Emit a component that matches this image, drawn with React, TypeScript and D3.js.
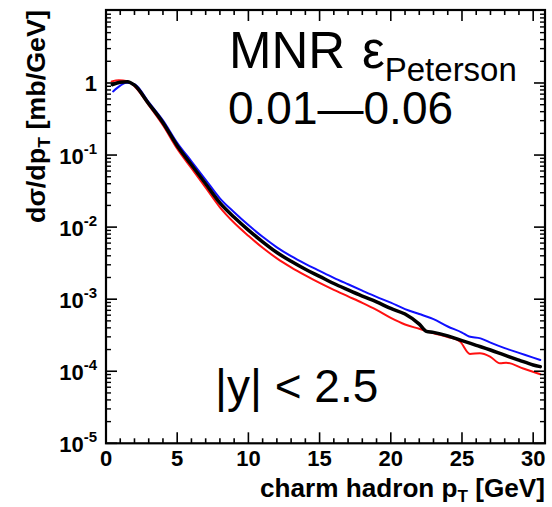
import React from "react";
import * as d3 from "d3";

const W = 552;
const H = 507;

// Black curve (central)
const pTBlack = [0.45, 1, 1.5, 2, 3, 4, 5, 6, 7, 8, 9, 10, 11, 12, 13, 14, 15, 16, 17, 18, 19, 20, 21, 22, 22.5, 23, 24, 25, 26, 27, 28, 29, 30, 30.5];
const valBlack = [0.947, 1.026, 1.042, 0.932, 0.516, 0.281, 0.1346, 0.0733, 0.0399, 0.0217, 0.01368, 0.00908, 0.00625, 0.00444, 0.00335, 0.0026, 0.002075, 0.001652, 0.001346, 0.001104, 0.000917, 0.000743, 0.000621, 0.00045, 0.000358, 0.000346, 0.00031, 0.000266, 0.000229, 0.000197, 0.000167, 0.0001426, 0.0001222, 0.0001159];

// Blue curve
const pTBlue = [0.5, 1, 1.4, 2, 3, 4, 5, 6, 7, 8, 9, 10, 11, 12, 13, 14, 15, 16, 17, 18, 19, 20, 21, 22, 23, 24, 25, 25.5, 26.3, 27, 28, 29, 30, 30.5];
const valBlue = [0.764, 0.917, 1.01, 0.962, 0.541, 0.304, 0.148, 0.082, 0.0454, 0.0251, 0.01606, 0.01066, 0.00733, 0.00524, 0.00395, 0.00309, 0.00247, 0.00198, 0.00161, 0.001313, 0.001076, 0.000894, 0.000729, 0.000623, 0.000529, 0.000418, 0.000344, 0.000303, 0.000286, 0.000249, 0.000209, 0.00018, 0.0001545, 0.0001435];

// Red curve
const pTRed = [0.4, 0.9, 1.5, 2, 3, 4, 5, 6, 7, 8, 9, 10, 11, 12, 13, 14, 15, 16, 17, 18, 19, 20, 21, 22, 23, 24, 24.86, 25.56, 26.26, 26.97, 27.67, 28.1, 29.3, 30.5];
const valRed = [1.052, 1.094, 1.059, 0.903, 0.492, 0.259, 0.1222, 0.0656, 0.0352, 0.01884, 0.01148, 0.00757, 0.00516, 0.00369, 0.00277, 0.00214, 0.00168, 0.001346, 0.001094, 0.000889, 0.00071, 0.00055, 0.000446, 0.000388, 0.000336, 0.000299, 0.000258, 0.000174, 0.000178, 0.00016, 0.000129, 0.0001316, 0.000109, 0.000091];

const xTickLabels = ["0", "5", "10", "15", "20", "25", "30"];
const yTickExponents = [0, -1, -2, -3, -4, -5];

const X0 = 106, X1 = 545, Y0 = 443.3, Y1 = 10;

export default function App() {
  const x = d3.scaleLinear().domain([0, 30.83]).range([X0, X1]);
  const y = d3.scaleLog().domain([1e-5, 10.3]).range([Y0, Y1]);

  const line = d3
    .line<[number, number]>()
    .x((d) => x(d[0]))
    .y((d) => y(d[1]))
    .curve(d3.curveMonotoneX);

  const series = [
    { pT: pTRed, v: valRed, color: "#ff1010", w: 2 },
    { pT: pTBlue, v: valBlue, color: "#1010ff", w: 2 },
    { pT: pTBlack, v: valBlack, color: "#000000", w: 3.5 },
  ];

  const xMinor = d3.range(0, 31, 1);
  const yMinor: number[] = [];
  for (let k = -5; k <= 0; k++) {
    for (let m = 2; m <= 9; m++) yMinor.push(m * Math.pow(10, k));
  }

  const font = "'Liberation Sans', Arial, Helvetica, sans-serif";

  return (
    <svg
      width={W}
      height={H}
      style={{ position: "absolute", left: 0, top: 0, background: "#fff" }}
      fontFamily={font}
    >
      <rect x={0} y={0} width={W} height={H} fill="#fff" />
      <defs>
        <clipPath id="plotclip">
          <rect x={X0} y={Y1} width={X1 - X0} height={Y0 - Y1} />
        </clipPath>
      </defs>

      {/* curves */}
      <g clipPath="url(#plotclip)">
        {series.map((s, i) => (
          <path
            key={i}
            d={line(s.pT.map((p, j) => [p, s.v[j]] as [number, number])) || ""}
            fill="none"
            stroke={s.color}
            strokeWidth={s.w}
            strokeLinejoin="round"
            strokeLinecap="round"
          />
        ))}
      </g>

      {/* x ticks bottom & top */}
      {xMinor.map((t) => {
        const major = t % 5 === 0;
        const len = major ? 11 : 5;
        const px = x(t);
        return (
          <g key={"xt" + t} stroke="#000" strokeWidth={1.6}>
            <line x1={px} x2={px} y1={Y0} y2={Y0 - len} />
            <line x1={px} x2={px} y1={Y1} y2={Y1 + len} />
          </g>
        );
      })}

      {/* y ticks left & right */}
      {yTickExponents.map((e) => {
        const py = y(Math.pow(10, e));
        return (
          <g key={"ym" + e} stroke="#000" strokeWidth={1.6}>
            <line x1={X0} x2={X0 + 11} y1={py} y2={py} />
            <line x1={X1} x2={X1 - 11} y1={py} y2={py} />
          </g>
        );
      })}
      {yMinor.map((v, i) => {
        const py = y(v);
        return (
          <g key={"yn" + i} stroke="#000" strokeWidth={1.4}>
            <line x1={X0} x2={X0 + 5} y1={py} y2={py} />
            <line x1={X1} x2={X1 - 5} y1={py} y2={py} />
          </g>
        );
      })}

      {/* frame */}
      <rect x={X0} y={Y1} width={X1 - X0} height={Y0 - Y1} fill="none" stroke="#000" strokeWidth={2.2} />

      {/* x tick labels */}
      {xTickLabels.map((l) => (
        <text key={"xl" + l} x={x(+l)} y={466} textAnchor="middle" fontSize={22} fontWeight="bold">
          {l}
        </text>
      ))}

      {/* y tick labels */}
      {yTickExponents.map((e) => {
        const py = y(Math.pow(10, e)) + 8.5;
        if (e === 0)
          return (
            <text key={"yl" + e} x={97} y={py} textAnchor="end" fontSize={22} fontWeight="bold">
              1
            </text>
          );
        return (
          <text key={"yl" + e} x={97} y={py} textAnchor="end" fontSize={22} fontWeight="bold">
            10
            <tspan dy={-10} fontSize={15}>{String(e)}</tspan>
          </text>
        );
      })}

      {/* axis titles */}
      <text
        x={260}
        y={497}
        fontSize={26}
        fontWeight="bold"
        textLength={285}
        lengthAdjust="spacingAndGlyphs"
      >
        charm hadron p<tspan dy={5} fontSize={17}>T</tspan>
        <tspan dy={-5}> [GeV]</tspan>
      </text>
      <text
        transform="translate(45,223) rotate(-90)"
        x={0}
        y={0}
        fontSize={26}
        fontWeight="bold"
        textLength={213}
        lengthAdjust="spacingAndGlyphs"
      >
        dσ/dp<tspan dy={5} fontSize={17}>T</tspan>
        <tspan dy={-5}> [mb/GeV]</tspan>
      </text>

      {/* annotations */}
      <text x={229} y={68} fontSize={51}>
        MNR
      </text>
      <text x={362} y={68} fontSize={51}>
        ε<tspan dy={13} fontSize={33}>Peterson</tspan>
      </text>
      <text x={228} y={124} fontSize={46}>
        0.01—0.06
      </text>
      <text x={215} y={402} fontSize={46}>
        |y| &lt; 2.5
      </text>
    </svg>
  );
}
